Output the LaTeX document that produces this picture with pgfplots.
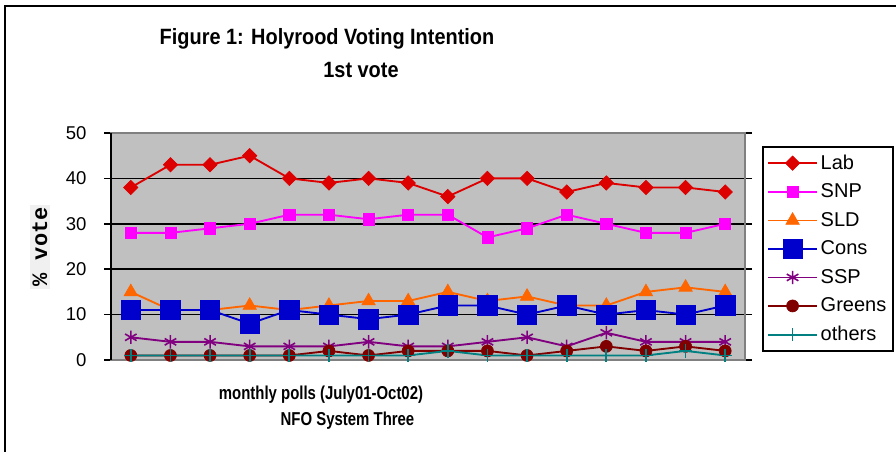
\documentclass[border=0pt]{standalone}
\usepackage{fontspec}
\setmainfont{Liberation Sans}
\newfontfamily\titlefont[FakeStretch=0.9]{Liberation Sans}
\newfontfamily\xlabfont[FakeStretch=0.8]{Liberation Sans}
\newfontfamily\monofont{Liberation Mono}
\usepackage{pgfplots}
\pgfplotsset{compat=1.18}
\definecolor{plotbg}{HTML}{C0C0C0}
\definecolor{frameg}{HTML}{808080}
\definecolor{cLab}{HTML}{DD0000}
\definecolor{cSNP}{HTML}{FF00FF}
\definecolor{cSLD}{HTML}{FF6600}
\definecolor{cCons}{HTML}{0000CC}
\definecolor{cSSP}{HTML}{800080}
\definecolor{cGreens}{HTML}{800000}
\definecolor{cOthers}{HTML}{008080}

\begin{document}
\begin{tikzpicture}[x=0.75pt,y=0.75pt]
\useasboundingbox (0,0) rectangle (896,452);
\draw[line width=1.9pt] (5,0) -- (5,446) -- (896,446);

\node[anchor=base, font=\titlefont\bfseries\fontsize{16.6}{19}\selectfont] at (327,407) {Figure 1: Holyrood Voting Intention};
\node[anchor=base, font=\titlefont\bfseries\fontsize{16.6}{19}\selectfont] at (361,374) {1st vote};
\node[anchor=base, font=\xlabfont\bfseries\fontsize{14}{17}\selectfont] at (321,52) {monthly polls (July01-Oct02)};
\node[anchor=base, font=\xlabfont\bfseries\fontsize{14}{17}\selectfont] at (347.5,26) {NFO System Three};
\node[rotate=90, fill=gray!12, inner sep=2pt, font=\monofont\bfseries\fontsize{16.5}{18}\selectfont] at (40,205) {\% vote};

\begin{axis}[
    at={(83.25pt,69pt)}, anchor=south west,
    scale only axis, width=475.5pt, height=170.25pt,
    xmin=0.5, xmax=16.5, ymin=0, ymax=50,
    xtick=\empty, ytick={0,10,...,50},
    axis background/.style={fill=plotbg},
    axis line style={draw=frameg, line width=1.6pt},
    ymajorgrids, y grid style={black, line width=1.3pt},
    tick align=outside, major tick length=5.25pt,
    ytick style={black, line width=1.2pt},
    /pgf/number format/assume math mode=true,
    yticklabel style={font=\fontsize{13.9}{16}\selectfont, anchor=east, inner sep=0pt},
    yticklabel shift=13pt,
    clip=false,
    legend style={at={(1.027,0.943)}, anchor=north west, draw=black, line width=1.5pt,
        font=\fontsize{15}{17}\selectfont, row sep=5.4pt, inner xsep=3pt, inner ysep=4pt},
    legend cell align=left,
    legend image code/.code={\draw[mark repeat=2,mark phase=2] plot coordinates {(0pt,0pt) (18.4pt,0pt) (36.8pt,0pt)};},
    every axis plot/.append style={line width=1.4pt},
]
\addplot[cLab, mark=square*, mark size=3.8pt, mark options={rotate=45, line width=0.5pt}] coordinates {
    (1,38) (2,43) (3,43) (4,45) (5,40) (6,39) (7,40) (8,39)
    (9,36) (10,40) (11,40) (12,37) (13,39) (14,38) (15,38) (16,37)
};
\addlegendentry{Lab}
\addplot[cSNP, mark=square*, mark size=4.2pt, mark options={line width=0.5pt}] coordinates {
    (1,28) (2,28) (3,29) (4,30) (5,32) (6,32) (7,31) (8,32)
    (9,32) (10,27) (11,29) (12,32) (13,30) (14,28) (15,28) (16,30)
};
\addlegendentry{SNP}
\addplot[cSLD, mark=triangle*, mark size=5.8pt, mark options={line width=0.5pt}] coordinates {
    (1,15) (2,11) (3,11) (4,12) (5,11) (6,12) (7,13) (8,13)
    (9,15) (10,13) (11,14) (12,12) (13,12) (14,15) (15,16) (16,15)
};
\addlegendentry{SLD}
\addplot[cCons, mark=square*, mark size=7.3pt, mark options={line width=0.5pt}] coordinates {
    (1,11) (2,11) (3,11) (4,8) (5,11) (6,10) (7,9) (8,10)
    (9,12) (10,12) (11,10) (12,12) (13,10) (14,11) (15,10) (16,12)
};
\addlegendentry{Cons}
\addplot[cSSP, mark=asterisk, mark size=5pt, mark options={line width=1.2pt}] coordinates {
    (1,5) (2,4) (3,4) (4,3) (5,3) (6,3) (7,4) (8,3)
    (9,3) (10,4) (11,5) (12,3) (13,6) (14,4) (15,4) (16,4)
};
\addlegendentry{SSP}
\addplot[cGreens, mark=*, mark size=4.5pt, mark options={line width=0.5pt}] coordinates {
    (1,1) (2,1) (3,1) (4,1) (5,1) (6,2) (7,1) (8,2)
    (9,2) (10,2) (11,1) (12,2) (13,3) (14,2) (15,3) (16,2)
};
\addlegendentry{Greens}
\addplot[cOthers, mark=+, mark size=5pt, mark options={line width=1.3pt}] coordinates {
    (1,1) (2,1) (3,1) (4,1) (5,1) (6,1) (7,1) (8,1)
    (9,2) (10,1) (11,1) (12,1) (13,1) (14,1) (15,2) (16,1)
};
\addlegendentry{others}
\draw[black, line width=1.6pt] (rel axis cs:0,0) -- (rel axis cs:0,1);
\end{axis}
\end{tikzpicture}
\end{document}
